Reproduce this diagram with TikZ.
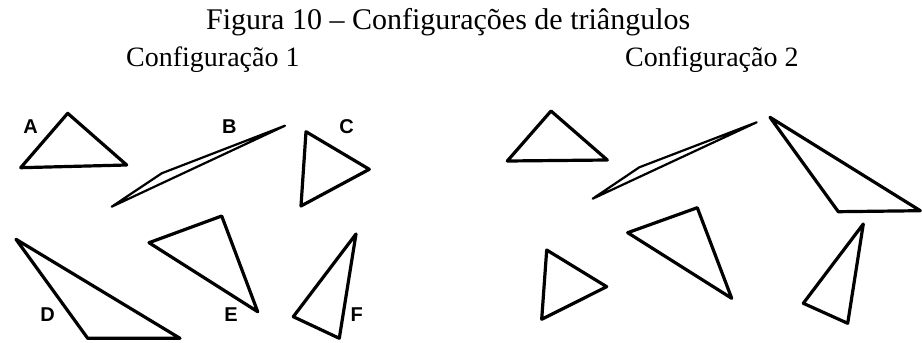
\documentclass[tikz,border=0pt]{standalone}
\usepackage{fontspec}
\setmainfont{Liberation Serif}
\newfontfamily\lblfont{Liberation Sans}
\begin{document}
\begin{tikzpicture}[x=1pt,y=-1pt,
  tri/.style={draw=black,line width=3.2pt,line join=round},
  sliver/.style={draw=black,line width=2.2pt,line join=round},
  lbl/.style={font=\lblfont\bfseries\fontsize{20}{20}\selectfont,inner sep=0pt},
  ttl/.style={font=\fontsize{30}{30}\selectfont,inner sep=0pt,anchor=base west},
  sub/.style={font=\fontsize{28}{28}\selectfont,inner sep=0pt,anchor=base west}]
\useasboundingbox (0,0) rectangle (922,343);
% titles
\node[ttl] (title) at (206,29) {Figura 10 – Configurações de triângulos};
\node[sub] (c1) at (126,66) {Configuração 1};
\node[sub] (c2) at (625,66) {Configuração 2};
% Configuration 1
\draw[tri] (67.7,113.3) -- (20.7,167.7) -- (126.7,165) -- cycle;
\draw[sliver] (111.7,206.7) -- (161.7,173.3) -- (285,125.7) -- cycle;
\draw[tri] (306,131.7) -- (369.3,169.3) -- (301,206) -- cycle;
\draw[tri] (16,239.3) -- (87.7,338.3) -- (180,338.3) -- cycle;
\draw[tri] (149,242.7) -- (221.7,216) -- (257.7,311.7) -- cycle;
\draw[tri] (356,234) -- (293.3,316.7) -- (339.3,338.3) -- cycle;
\node[lbl] (lA) at (30.7,126.7) {A};
\node[lbl] (lB) at (229.3,126.7) {B};
\node[lbl] (lC) at (346.7,126.7) {C};
\node[lbl] (lD) at (47.7,315) {D};
\node[lbl] (lE) at (231,315) {E};
\node[lbl] (lF) at (356.7,315) {F};
% Configuration 2
\draw[tri] (551,111) -- (507.3,161) -- (607.3,160) -- cycle;
\draw[sliver] (592.7,198.7) -- (639.3,167.3) -- (756.7,122.3) -- cycle;
\draw[tri] (770,117.3) -- (838.3,211.7) -- (920.3,210.7) -- cycle;
\draw[tri] (546.7,250) -- (606.7,286.7) -- (541.7,319.3) -- cycle;
\draw[tri] (627.7,232.7) -- (697.3,207.7) -- (731.7,298.3) -- cycle;
\draw[tri] (863.3,224) -- (803.3,303.3) -- (847.7,323.3) -- cycle;
\end{tikzpicture}
\end{document}
